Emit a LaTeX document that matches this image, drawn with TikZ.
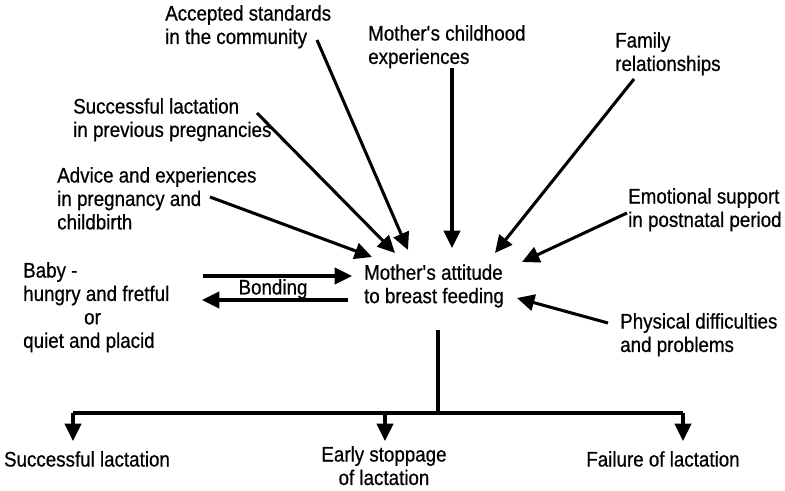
\documentclass[tikz,border=0pt]{standalone}
\usepackage{fontspec}
\setmainfont[FakeStretch=0.89, FakeBold=0.6]{Liberation Sans}
\usetikzlibrary{arrows.meta}

\begin{document}
\begin{tikzpicture}[x=0.3mm, y=-0.3mm,
    lbl/.style={inner sep=0pt, align=left, anchor=north west, font=\fontsize{18}{20}\selectfont},
    arr/.style={-{Triangle[length=5.2mm, width=4.9mm]}, line width=2.6pt},
    bar/.style={line width=2.6pt}]
    \useasboundingbox (0,0) rectangle (785,490);

    % Central node
    \node[lbl, anchor=center] (attitude) at (434,286) {Mother\textquotesingle s attitude\\to breast feeding};

    % Influences
    \node[lbl] (standards) at (165,5) {Accepted standards\\in the community};
    \node[lbl] (childhood) at (368,25) {Mother\textquotesingle s childhood\\experiences};
    \node[lbl] (family) at (615,32) {Family\\relationships};
    \node[lbl] (previous) at (73,98) {Successful lactation\\in previous pregnancies};
    \node[lbl] (advice) at (57,167) {Advice and experiences\\in pregnancy and\\childbirth};
    \node[lbl] (emotional) at (628,188) {Emotional support\\in postnatal period};
    \node[lbl] (physical) at (620,313) {Physical difficulties\\and problems};
    \node[lbl] (baby) at (23,262) {Baby -\\hungry and fretful\\\hspace*{52pt}or\\quiet and placid};
    \node[lbl, anchor=center] (bonding) at (273,289) {Bonding};

    % Outcomes
    \node[lbl, anchor=north, align=center] (success) at (87,451) {Successful lactation};
    \node[lbl, anchor=north, align=center] (early) at (384,446) {Early stoppage\\of lactation};
    \node[lbl, anchor=north, align=center] (failure) at (663,451) {Failure of lactation};

    % Arrow ends
    \coordinate (standardsS) at (317,40);   \coordinate (standardsT) at (408,250);
    \coordinate (childhoodS) at (452,68);   \coordinate (childhoodT) at (452,248);
    \coordinate (familyS) at (634,79);      \coordinate (familyT) at (495,253);
    \coordinate (previousS) at (257,113);   \coordinate (previousT) at (395,253);
    \coordinate (adviceS) at (210,197);     \coordinate (adviceT) at (372,257);
    \coordinate (emotionalS) at (627,213);  \coordinate (emotionalT) at (522,262);
    \coordinate (physicalS) at (608,323);   \coordinate (physicalT) at (517,298);
    \coordinate (babyA) at (203,276);       \coordinate (motherA) at (352,276);
    \coordinate (motherB) at (348,300);     \coordinate (babyB) at (202,300);

    % Influences to attitude
    \draw[arr] (standardsS) -- (standardsT);
    \draw[arr] (childhoodS) -- (childhoodT);
    \draw[arr] (familyS) -- (familyT);
    \draw[arr] (previousS) -- (previousT);
    \draw[arr] (adviceS) -- (adviceT);
    \draw[arr] (emotionalS) -- (emotionalT);
    \draw[arr] (physicalS) -- (physicalT);

    % Bonding
    \draw[arr] (babyA) -- (motherA);
    \draw[arr] (motherB) -- (babyB);

    % Outcome tree
    \coordinate (stem) at (438,330);
    \coordinate (fork) at (438,413);
    \coordinate (forkL) at (73,413);
    \coordinate (forkM) at (385,413);
    \coordinate (forkR) at (683,413);
    \draw[bar] (stem) -- (fork);
    \draw[bar] (forkL) -- (forkR);
    \draw[arr] (forkL) -- ++(0,28);
    \draw[arr] (forkM) -- ++(0,28);
    \draw[arr] (forkR) -- ++(0,28);
\end{tikzpicture}
\end{document}
